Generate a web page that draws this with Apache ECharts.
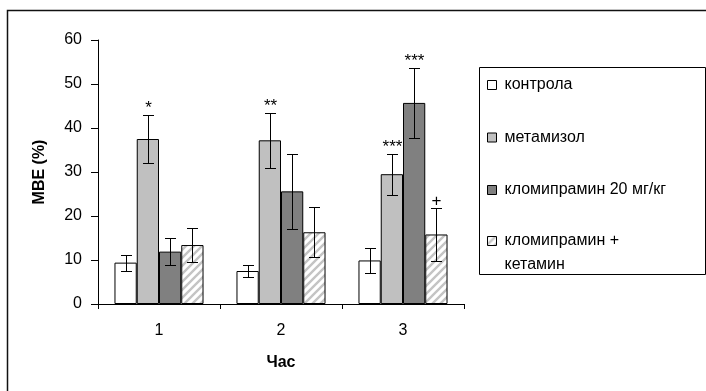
<!DOCTYPE html>
<html>
<head>
<meta charset="utf-8">
<script src="https://cdn.jsdelivr.net/npm/echarts@6/dist/echarts.min.js"></script>
<style>
  html, body { margin: 0; padding: 0; background: #fff; }
  #chart { width: 706px; height: 391px; }
</style>
</head>
<body>
<div id="chart"></div>
<script>
// Hours after treatment
const categories = ['1', '2', '3'];
const seriesNames = ['контрола', 'метамизол', 'кломипрамин 20 мг/кг', 'кломипрамин +\nкетамин'];

// Mean МВЕ (%) per group and its error (±)
const control = [9.4, 7.5, 9.9];
const controlErr = [1.8, 1.4, 2.9];
const metamizol = [37.5, 37.2, 29.5];
const metamizolErr = [5.4, 6.2, 4.7];
const clomipramine = [11.9, 25.6, 45.7];
const clomipramineErr = [3.1, 8.6, 8.0];
const combo = [13.4, 16.3, 15.8];
const comboErr = [3.9, 5.7, 6.0];

// Significance marks above the error bars
const controlMarks = ['', '', ''];
const metamizolMarks = ['*', '**', '***'];
const clomipramineMarks = ['', '', '***'];
const comboMarks = ['', '', '+'];

const FONT = '"Liberation Sans", Arial, sans-serif';
const CAT_GAP = 0.27;

// Light diagonal hatch for the combination group
function hatchPattern() {
  const s = 8;
  const c = document.createElement('canvas');
  c.width = s; c.height = s;
  const g = c.getContext('2d');
  g.fillStyle = '#ffffff';
  g.fillRect(0, 0, s, s);
  g.strokeStyle = '#c4c4c4';
  g.lineWidth = 2.4;
  g.beginPath();
  g.moveTo(0, s); g.lineTo(s, 0);
  g.moveTo(-s / 2, s / 2); g.lineTo(s / 2, -s / 2);
  g.moveTo(s / 2, s * 1.5); g.lineTo(s * 1.5, s / 2);
  g.stroke();
  return { image: c, repeat: 'repeat' };
}

const groups = [
  { name: seriesNames[0], values: control, errs: controlErr, marks: controlMarks, color: '#ffffff' },
  { name: seriesNames[1], values: metamizol, errs: metamizolErr, marks: metamizolMarks, color: '#c0c0c0' },
  { name: seriesNames[2], values: clomipramine, errs: clomipramineErr, marks: clomipramineMarks, color: '#808080' },
  { name: seriesNames[3], values: combo, errs: comboErr, marks: comboMarks, color: hatchPattern() }
];

function errorBars(idx, marks) {
  return function (params, api) {
    const x = api.value(0), v = api.value(1), e = api.value(2);
    const band = api.size([1, 0])[0];
    const bw = band * (1 - CAT_GAP) / groups.length;
    const cx = Math.round(api.coord([x, v])[0] + (idx - (groups.length - 1) / 2) * bw) + 0.5;
    const yTop = Math.round(api.coord([x, v + e])[1]) + 0.5;
    const yBot = Math.round(api.coord([x, v - e])[1]) + 0.5;
    const cap = 5.5;
    const st = { stroke: '#000', lineWidth: 1 };
    const children = [
      { type: 'line', shape: { x1: cx, y1: yTop, x2: cx, y2: yBot }, style: st },
      { type: 'line', shape: { x1: cx - cap, y1: yTop, x2: cx + cap, y2: yTop }, style: st },
      { type: 'line', shape: { x1: cx - cap, y1: yBot, x2: cx + cap, y2: yBot }, style: st }
    ];
    const m = marks[params.dataIndex];
    if (m) {
      children.push({
        type: 'text',
        style: {
          text: m, x: cx, y: yTop - 7, align: 'center', verticalAlign: 'middle',
          fill: '#000', font: '17px ' + FONT
        }
      });
    }
    return { type: 'group', children: children };
  };
}

const series = [];
groups.forEach(function (g) {
  series.push({
    name: g.name,
    type: 'bar',
    data: g.values,
    barGap: '0%',
    barCategoryGap: (CAT_GAP * 100) + '%',
    itemStyle: { color: g.color, borderColor: '#000', borderWidth: 1 },
    emphasis: { disabled: true },
    animation: false
  });
});
groups.forEach(function (g, i) {
  series.push({
    name: g.name + ' ±',
    type: 'custom',
    renderItem: errorBars(i, g.marks),
    data: g.values.map(function (v, k) { return [k, v, g.errs[k]]; }),
    z: 5,
    silent: true,
    animation: false
  });
});

const legendText = { color: '#000', fontSize: 16, fontFamily: FONT, lineHeight: 24, padding: [0, 0, 0, 3] };

const option = {
  backgroundColor: '#ffffff',
  animation: false,
  grid: { left: 98, right: 242, top: 40, bottom: 87 },
  xAxis: {
    type: 'category',
    data: categories,
    name: 'Час',
    nameLocation: 'middle',
    nameGap: 51,
    nameTextStyle: { color: '#000', fontSize: 16, fontWeight: 'bold', fontFamily: FONT },
    axisLine: { lineStyle: { color: '#000', width: 1 } },
    axisTick: { show: true, length: 5, lineStyle: { color: '#000' } },
    axisLabel: { color: '#000', fontSize: 16, fontFamily: FONT, margin: 19 },
    splitLine: { show: false }
  },
  yAxis: {
    type: 'value',
    min: 0, max: 60, interval: 10,
    name: 'МВЕ (%)',
    nameLocation: 'middle',
    nameGap: 50,
    nameRotate: 90,
    nameTextStyle: { color: '#000', fontSize: 16, fontWeight: 'bold', fontFamily: FONT },
    axisLine: { show: true, lineStyle: { color: '#000', width: 1 } },
    axisTick: { show: true, length: 7, lineStyle: { color: '#000' } },
    axisLabel: { color: '#000', fontSize: 16, fontFamily: FONT, margin: 16 },
    splitLine: { show: false }
  },
  legend: [
    {
      orient: 'vertical', left: 487, top: 73, padding: 0, itemGap: 28.5,
      icon: 'rect', itemWidth: 9, itemHeight: 9,
      itemStyle: { borderColor: '#000', borderWidth: 1 },
      data: seriesNames.slice(0, 3),
      textStyle: legendText,
      selectedMode: false
    },
    {
      // leading blank line keeps the swatch level with the first text line
      orient: 'vertical', left: 487, top: 205, padding: 0,
      icon: 'rect', itemWidth: 9, itemHeight: 9,
      itemStyle: { borderColor: '#000', borderWidth: 1 },
      data: seriesNames.slice(3),
      formatter: function (name) { return '\n' + name; },
      textStyle: legendText,
      selectedMode: false
    }
  ],
  graphic: [
    {
      type: 'rect', z: -1, silent: true,
      shape: { x: 7.5, y: 10.5, width: 760, height: 420 },
      style: { fill: 'none', stroke: '#111', lineWidth: 1.5 }
    },
    {
      type: 'rect', z: -1, silent: true,
      shape: { x: 479.5, y: 67.5, width: 226, height: 207 },
      style: { fill: '#fff', stroke: '#000', lineWidth: 1 }
    }
  ],
  series: series
};

const chart = echarts.init(document.getElementById('chart'), null, { renderer: 'canvas' });
chart.setOption(option);
</script>
</body>
</html>
